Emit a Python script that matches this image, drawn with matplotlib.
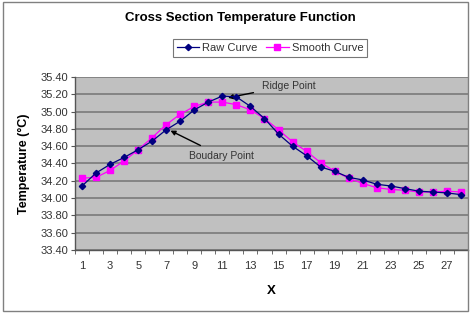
import numpy as np
import matplotlib
matplotlib.use('Agg')
import matplotlib.pyplot as plt
from matplotlib.patches import Rectangle

# values
x_vals = list(range(1, 29))
raw_curve = [34.14, 34.29, 34.39, 34.47, 34.56, 34.66, 34.79, 34.89, 35.02, 35.11,
             35.18, 35.17, 35.06, 34.92, 34.74, 34.60, 34.49, 34.36, 34.31, 34.24,
             34.21, 34.16, 34.14, 34.11, 34.08, 34.07, 34.06, 34.04]
smooth_curve = [34.23, 34.24, 34.32, 34.43, 34.56, 34.70, 34.85, 34.97, 35.06, 35.11,
                35.11, 35.08, 35.02, 34.92, 34.79, 34.65, 34.54, 34.41, 34.31, 34.23,
                34.17, 34.12, 34.10, 34.09, 34.07, 34.07, 34.08, 34.07]
x_tick_labels = [str(v) for v in range(1, 29, 2)]

plt.rcParams['font.family'] = ['Liberation Sans', 'DejaVu Sans']

W, H = 471, 318
fig = plt.figure(figsize=(W / 100, H / 100), dpi=100)

# outer chart border
fig.patches.append(Rectangle((3 / W, 1 - 311 / H), 465 / W, 309 / H,
                             transform=fig.transFigure, fill=False,
                             edgecolor='#808080', lw=1.0))

ax = fig.add_axes([75 / W, 1 - 250 / H, 393 / W, 173 / H])
ax.set_facecolor('#C0C0C0')

ax.plot(x_vals, raw_curve, color='#000080', lw=0.9, marker='D', ms=3.2,
        label='Raw Curve', zorder=4)
ax.plot(x_vals, smooth_curve, color='#FF00FF', lw=0.9, marker='s', ms=4.4,
        label='Smooth Curve', zorder=3)

ax.set_xlim(0.5, 28.5)
ax.set_ylim(33.4, 35.4)
ax.set_yticks(np.arange(33.4, 35.41, 0.2))
ax.set_yticklabels([f'{v:.2f}' for v in np.arange(33.4, 35.41, 0.2)])
ax.set_xticks(range(1, 29, 2))
ax.set_xticklabels(x_tick_labels)
ax.set_xticks(np.arange(0.5, 28.6, 1), minor=True)
ax.tick_params(axis='x', which='major', length=0, pad=8, labelsize=8, colors='#333333')
ax.tick_params(axis='x', which='minor', length=3, direction='out', color='#555555')
ax.tick_params(axis='y', length=3, direction='out', labelsize=8, colors='#333333', pad=2)
ax.tick_params(axis='both', color='#555555')

ax.grid(axis='y', color='#7F7F7F', lw=1.3)
ax.set_axisbelow(True)
for side in ['top', 'right']:
    ax.spines[side].set_visible(False)
for side in ['left', 'bottom']:
    ax.spines[side].set_color('#555555')
    ax.spines[side].set_linewidth(1.0)

ax.set_xlabel('X', fontsize=9.5, fontweight='bold', labelpad=10)
ax.set_ylabel('Temperature (°C)', fontsize=9, fontweight='bold', labelpad=7)

ax.annotate('Ridge Point', xy=(11.4, 35.16), xytext=(13.8, 35.30),
            fontsize=7.5, color='#333333', va='center', ha='left',
            arrowprops=dict(arrowstyle='-|>', color='black', lw=1.0,
                            mutation_scale=7, shrinkA=4, shrinkB=0))
ax.annotate('Boudary Point', xy=(7.3, 34.78), xytext=(8.6, 34.49),
            fontsize=7.5, color='#333333', va='center', ha='left',
            arrowprops=dict(arrowstyle='-|>', color='black', lw=1.0,
                            mutation_scale=7, shrinkA=4, shrinkB=0))

fig.text(240 / W, 1 - 18 / H, 'Cross Section Temperature Function',
         ha='center', va='center', fontsize=9.5, fontweight='bold')

leg = fig.legend(loc='center', bbox_to_anchor=(270 / W, 1 - 48 / H), ncol=2,
                 fontsize=8, frameon=True, fancybox=False, edgecolor='#555555',
                 handlelength=2.0, handletextpad=0.3, columnspacing=0.8,
                 borderpad=0.35, labelcolor='#333333')
leg.get_frame().set_linewidth(0.8)

fig.savefig('out.png', dpi=100)
